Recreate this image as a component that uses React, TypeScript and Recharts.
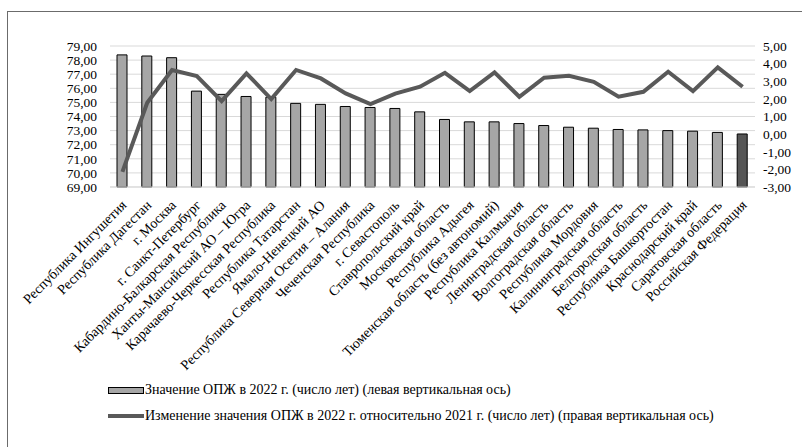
import React from 'react'
import { ComposedChart, Bar, Line, XAxis, YAxis, CartesianGrid, Cell } from 'recharts'

const regions = [
  'Республика Ингушетия',
  'Республика Дагестан',
  'г. Москва',
  'г. Санкт-Петербург',
  'Кабардино-Балкарская Республика',
  'Ханты-Мансийский АО – Югра',
  'Карачаево-Черкесская Республика',
  'Республика Татарстан',
  'Ямало-Ненецкий АО',
  'Республика Северная Осетия – Алания',
  'Чеченская Республика',
  'г. Севастополь',
  'Ставропольский край',
  'Московская область',
  'Республика Адыгея',
  'Тюменская область (без автономий)',
  'Республика Калмыкия',
  'Ленинградская область',
  'Волгоградская область',
  'Республика Мордовия',
  'Калининградская область',
  'Белгородская область',
  'Республика Башкортостан',
  'Краснодарский край',
  'Саратовская область',
  'Российская Федерация',
]

// ОПЖ 2022, лет (левая ось)
const lifeExp2022 = [
  78.37, 78.29, 78.17, 75.8, 75.57, 75.42, 75.37, 74.93, 74.86, 74.71, 74.64, 74.57, 74.33,
  73.79, 73.62, 73.62, 73.5, 73.36, 73.24, 73.17, 73.08, 73.05, 73.0, 72.96, 72.87, 72.76,
]

// изменение к 2021, лет (правая ось)
const change2021 = [
  -2.14, 1.78, 3.64, 3.29, 1.87, 3.45, 1.99, 3.64, 3.16, 2.31, 1.7, 2.3, 2.69,
  3.48, 2.44, 3.5, 2.12, 3.2, 3.31, 2.97, 2.12, 2.4, 3.54, 2.44, 3.79, 2.69,
]

const leftTicks = [69, 70, 71, 72, 73, 74, 75, 76, 77, 78, 79]
const rightTicks = [-3, -2, -1, 0, 1, 2, 3, 4, 5]

const data = regions.map((name, i) => ({ name, value: lifeExp2022[i], change: change2021[i] }))

const font = "'Liberation Serif', 'Times New Roman', serif"
const fmt = (v: number) => v.toFixed(2).replace('.', ',')

function RegionTick({ x, y, payload }: any) {
  return (
    <g transform={`translate(${x + 5},${y + 17})`}>
      <text x={0} y={0} textAnchor="end" transform="rotate(-45)" fontSize={14} fill="#000" fontFamily={font}>
        {payload.value}
      </text>
    </g>
  )
}

export default function App() {
  return (
    <div style={{ position: 'absolute', left: 0, top: 0, width: 802, height: 447, overflow: 'hidden', background: '#fff', fontFamily: font }}>
      <div style={{ position: 'absolute', left: 7, top: 11, width: 820, height: 460, borderLeft: '1px solid #6b6b6b', borderTop: '1px solid #6b6b6b' }} />
      <ComposedChart width={802} height={447} data={data} margin={{ top: 46, right: 0, bottom: 80, left: 0 }}>
        <CartesianGrid yAxisId="left" vertical={false} stroke="#d9d9d9" />
        <XAxis
          dataKey="name"
          interval={0}
          height={180}
          tick={<RegionTick />}
          tickLine={false}
          tickSize={0}
          axisLine={{ stroke: '#d9d9d9' }}
        />
        <YAxis
          yAxisId="left"
          domain={[69, 79]}
          ticks={leftTicks}
          interval={0}
          tickFormatter={fmt}
          width={110}
          axisLine={false}
          tickLine={false}
          tickSize={0}
          tickMargin={13}
          tick={{ fill: '#000', fontSize: 13.5, fontFamily: font }}
        />
        <YAxis
          yAxisId="right"
          orientation="right"
          domain={[-3, 5]}
          ticks={rightTicks}
          interval={0}
          tickFormatter={fmt}
          width={47}
          axisLine={false}
          tickLine={false}
          tickSize={0}
          tickMargin={8}
          tick={{ fill: '#000', fontSize: 13.5, fontFamily: font }}
        />
        <Bar yAxisId="left" dataKey="value" barSize={10} stroke="#000" strokeWidth={1} isAnimationActive={false}>
          {data.map((d, i) => (
            <Cell key={d.name} fill={i === data.length - 1 ? '#555555' : '#a6a6a6'} />
          ))}
        </Bar>
        <Line yAxisId="right" dataKey="change" type="linear" stroke="#595959" strokeWidth={4} dot={false} isAnimationActive={false} />
      </ComposedChart>
      <div style={{ position: 'absolute', left: 108, top: 380, fontSize: 14, color: '#000', lineHeight: '20px' }}>
        <div style={{ display: 'flex', alignItems: 'center', height: 20 }}>
          <span style={{ display: 'inline-block', width: 34, height: 5, background: '#a6a6a6', border: '1px solid #000' }} />
          <span style={{ marginLeft: 1 }}>Значение ОПЖ в 2022 г. (число лет) (левая вертикальная ось)</span>
        </div>
        <div style={{ display: 'flex', alignItems: 'center', height: 20, marginTop: 6 }}>
          <span style={{ display: 'inline-block', width: 36, height: 4, background: '#595959' }} />
          <span style={{ marginLeft: 1 }}>Изменение значения ОПЖ в 2022 г. относительно 2021 г. (число лет) (правая вертикальная ось)</span>
        </div>
      </div>
    </div>
  )
}
